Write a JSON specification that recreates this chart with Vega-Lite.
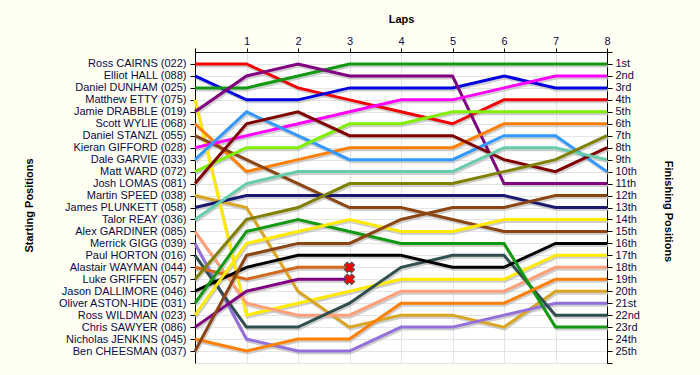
{
  "$schema": "https://vega.github.io/schema/vega-lite/v6.json",
  "width": 412,
  "height": 311,
  "autosize": {"type": "none"},
  "padding": {"left": 195, "top": 52, "right": 93, "bottom": 12},
  "background": "#FFFFF4",
  "config": {
    "view": {"fill": "#FFFFFF", "stroke": null},
    "font": "Liberation Sans",
    "axis": {
      "labelFont": "Liberation Sans", "labelFontSize": 11, "labelColor": "#0A0A46",
      "titleFont": "Liberation Sans", "titleFontSize": 11, "titleFontWeight": "bold", "titleColor": "#000000",
      "domainColor": "#000000", "domainWidth": 1, "tickColor": "#000000", "tickWidth": 1, "tickSize": 5,
      "gridColor": "#E4E4E4", "gridWidth": 1
    }
  },
  "data": {"values": [
    {"driver": "Ross CAIRNS (022)", "lap": 0, "pos": 1}, {"driver": "Ross CAIRNS (022)", "lap": 1, "pos": 1}, {"driver": "Ross CAIRNS (022)", "lap": 2, "pos": 3}, {"driver": "Ross CAIRNS (022)", "lap": 3, "pos": 4}, {"driver": "Ross CAIRNS (022)", "lap": 4, "pos": 5}, {"driver": "Ross CAIRNS (022)", "lap": 5, "pos": 6}, {"driver": "Ross CAIRNS (022)", "lap": 6, "pos": 4}, {"driver": "Ross CAIRNS (022)", "lap": 7, "pos": 4}, {"driver": "Ross CAIRNS (022)", "lap": 8, "pos": 4},
    {"driver": "Elliot HALL (088)", "lap": 0, "pos": 2}, {"driver": "Elliot HALL (088)", "lap": 1, "pos": 4}, {"driver": "Elliot HALL (088)", "lap": 2, "pos": 4}, {"driver": "Elliot HALL (088)", "lap": 3, "pos": 3}, {"driver": "Elliot HALL (088)", "lap": 4, "pos": 3}, {"driver": "Elliot HALL (088)", "lap": 5, "pos": 3}, {"driver": "Elliot HALL (088)", "lap": 6, "pos": 2}, {"driver": "Elliot HALL (088)", "lap": 7, "pos": 3}, {"driver": "Elliot HALL (088)", "lap": 8, "pos": 3},
    {"driver": "Daniel DUNHAM (025)", "lap": 0, "pos": 3}, {"driver": "Daniel DUNHAM (025)", "lap": 1, "pos": 3}, {"driver": "Daniel DUNHAM (025)", "lap": 2, "pos": 2}, {"driver": "Daniel DUNHAM (025)", "lap": 3, "pos": 1}, {"driver": "Daniel DUNHAM (025)", "lap": 4, "pos": 1}, {"driver": "Daniel DUNHAM (025)", "lap": 5, "pos": 1}, {"driver": "Daniel DUNHAM (025)", "lap": 6, "pos": 1}, {"driver": "Daniel DUNHAM (025)", "lap": 7, "pos": 1}, {"driver": "Daniel DUNHAM (025)", "lap": 8, "pos": 1},
    {"driver": "Matthew ETTY (075)", "lap": 0, "pos": 4}, {"driver": "Matthew ETTY (075)", "lap": 1, "pos": 22}, {"driver": "Matthew ETTY (075)", "lap": 2, "pos": 21}, {"driver": "Matthew ETTY (075)", "lap": 3, "pos": 20}, {"driver": "Matthew ETTY (075)", "lap": 4, "pos": 19}, {"driver": "Matthew ETTY (075)", "lap": 5, "pos": 19}, {"driver": "Matthew ETTY (075)", "lap": 6, "pos": 19}, {"driver": "Matthew ETTY (075)", "lap": 7, "pos": 17}, {"driver": "Matthew ETTY (075)", "lap": 8, "pos": 17},
    {"driver": "Jamie DRABBLE (019)", "lap": 0, "pos": 5}, {"driver": "Jamie DRABBLE (019)", "lap": 1, "pos": 2}, {"driver": "Jamie DRABBLE (019)", "lap": 2, "pos": 1}, {"driver": "Jamie DRABBLE (019)", "lap": 3, "pos": 2}, {"driver": "Jamie DRABBLE (019)", "lap": 4, "pos": 2}, {"driver": "Jamie DRABBLE (019)", "lap": 5, "pos": 2}, {"driver": "Jamie DRABBLE (019)", "lap": 6, "pos": 11}, {"driver": "Jamie DRABBLE (019)", "lap": 7, "pos": 11}, {"driver": "Jamie DRABBLE (019)", "lap": 8, "pos": 11},
    {"driver": "Scott WYLIE (068)", "lap": 0, "pos": 6}, {"driver": "Scott WYLIE (068)", "lap": 1, "pos": 10}, {"driver": "Scott WYLIE (068)", "lap": 2, "pos": 9}, {"driver": "Scott WYLIE (068)", "lap": 3, "pos": 8}, {"driver": "Scott WYLIE (068)", "lap": 4, "pos": 8}, {"driver": "Scott WYLIE (068)", "lap": 5, "pos": 8}, {"driver": "Scott WYLIE (068)", "lap": 6, "pos": 6}, {"driver": "Scott WYLIE (068)", "lap": 7, "pos": 6}, {"driver": "Scott WYLIE (068)", "lap": 8, "pos": 6},
    {"driver": "Daniel STANZL (055)", "lap": 0, "pos": 7}, {"driver": "Daniel STANZL (055)", "lap": 1, "pos": 9}, {"driver": "Daniel STANZL (055)", "lap": 2, "pos": 11}, {"driver": "Daniel STANZL (055)", "lap": 3, "pos": 13}, {"driver": "Daniel STANZL (055)", "lap": 4, "pos": 13}, {"driver": "Daniel STANZL (055)", "lap": 5, "pos": 14}, {"driver": "Daniel STANZL (055)", "lap": 6, "pos": 15}, {"driver": "Daniel STANZL (055)", "lap": 7, "pos": 15}, {"driver": "Daniel STANZL (055)", "lap": 8, "pos": 15},
    {"driver": "Kieran GIFFORD (028)", "lap": 0, "pos": 8}, {"driver": "Kieran GIFFORD (028)", "lap": 1, "pos": 7}, {"driver": "Kieran GIFFORD (028)", "lap": 2, "pos": 6}, {"driver": "Kieran GIFFORD (028)", "lap": 3, "pos": 5}, {"driver": "Kieran GIFFORD (028)", "lap": 4, "pos": 4}, {"driver": "Kieran GIFFORD (028)", "lap": 5, "pos": 4}, {"driver": "Kieran GIFFORD (028)", "lap": 6, "pos": 3}, {"driver": "Kieran GIFFORD (028)", "lap": 7, "pos": 2}, {"driver": "Kieran GIFFORD (028)", "lap": 8, "pos": 2},
    {"driver": "Dale GARVIE (033)", "lap": 0, "pos": 9}, {"driver": "Dale GARVIE (033)", "lap": 1, "pos": 5}, {"driver": "Dale GARVIE (033)", "lap": 2, "pos": 7}, {"driver": "Dale GARVIE (033)", "lap": 3, "pos": 9}, {"driver": "Dale GARVIE (033)", "lap": 4, "pos": 9}, {"driver": "Dale GARVIE (033)", "lap": 5, "pos": 9}, {"driver": "Dale GARVIE (033)", "lap": 6, "pos": 7}, {"driver": "Dale GARVIE (033)", "lap": 7, "pos": 7}, {"driver": "Dale GARVIE (033)", "lap": 8, "pos": 10},
    {"driver": "Matt WARD (072)", "lap": 0, "pos": 10}, {"driver": "Matt WARD (072)", "lap": 1, "pos": 8}, {"driver": "Matt WARD (072)", "lap": 2, "pos": 8}, {"driver": "Matt WARD (072)", "lap": 3, "pos": 6}, {"driver": "Matt WARD (072)", "lap": 4, "pos": 6}, {"driver": "Matt WARD (072)", "lap": 5, "pos": 5}, {"driver": "Matt WARD (072)", "lap": 6, "pos": 5}, {"driver": "Matt WARD (072)", "lap": 7, "pos": 5}, {"driver": "Matt WARD (072)", "lap": 8, "pos": 5},
    {"driver": "Josh LOMAS (081)", "lap": 0, "pos": 11}, {"driver": "Josh LOMAS (081)", "lap": 1, "pos": 6}, {"driver": "Josh LOMAS (081)", "lap": 2, "pos": 5}, {"driver": "Josh LOMAS (081)", "lap": 3, "pos": 7}, {"driver": "Josh LOMAS (081)", "lap": 4, "pos": 7}, {"driver": "Josh LOMAS (081)", "lap": 5, "pos": 7}, {"driver": "Josh LOMAS (081)", "lap": 6, "pos": 9}, {"driver": "Josh LOMAS (081)", "lap": 7, "pos": 10}, {"driver": "Josh LOMAS (081)", "lap": 8, "pos": 8},
    {"driver": "Martin SPEED (038)", "lap": 0, "pos": 12}, {"driver": "Martin SPEED (038)", "lap": 1, "pos": 13}, {"driver": "Martin SPEED (038)", "lap": 2, "pos": 20}, {"driver": "Martin SPEED (038)", "lap": 3, "pos": 23}, {"driver": "Martin SPEED (038)", "lap": 4, "pos": 22}, {"driver": "Martin SPEED (038)", "lap": 5, "pos": 22}, {"driver": "Martin SPEED (038)", "lap": 6, "pos": 23}, {"driver": "Martin SPEED (038)", "lap": 7, "pos": 20}, {"driver": "Martin SPEED (038)", "lap": 8, "pos": 20},
    {"driver": "James PLUNKETT (058)", "lap": 0, "pos": 13}, {"driver": "James PLUNKETT (058)", "lap": 1, "pos": 12}, {"driver": "James PLUNKETT (058)", "lap": 2, "pos": 12}, {"driver": "James PLUNKETT (058)", "lap": 3, "pos": 12}, {"driver": "James PLUNKETT (058)", "lap": 4, "pos": 12}, {"driver": "James PLUNKETT (058)", "lap": 5, "pos": 12}, {"driver": "James PLUNKETT (058)", "lap": 6, "pos": 12}, {"driver": "James PLUNKETT (058)", "lap": 7, "pos": 13}, {"driver": "James PLUNKETT (058)", "lap": 8, "pos": 13},
    {"driver": "Talor REAY (036)", "lap": 0, "pos": 14}, {"driver": "Talor REAY (036)", "lap": 1, "pos": 11}, {"driver": "Talor REAY (036)", "lap": 2, "pos": 10}, {"driver": "Talor REAY (036)", "lap": 3, "pos": 10}, {"driver": "Talor REAY (036)", "lap": 4, "pos": 10}, {"driver": "Talor REAY (036)", "lap": 5, "pos": 10}, {"driver": "Talor REAY (036)", "lap": 6, "pos": 8}, {"driver": "Talor REAY (036)", "lap": 7, "pos": 8}, {"driver": "Talor REAY (036)", "lap": 8, "pos": 9},
    {"driver": "Alex GARDINER (085)", "lap": 0, "pos": 15}, {"driver": "Alex GARDINER (085)", "lap": 1, "pos": 21}, {"driver": "Alex GARDINER (085)", "lap": 2, "pos": 22}, {"driver": "Alex GARDINER (085)", "lap": 3, "pos": 22}, {"driver": "Alex GARDINER (085)", "lap": 4, "pos": 20}, {"driver": "Alex GARDINER (085)", "lap": 5, "pos": 20}, {"driver": "Alex GARDINER (085)", "lap": 6, "pos": 20}, {"driver": "Alex GARDINER (085)", "lap": 7, "pos": 18}, {"driver": "Alex GARDINER (085)", "lap": 8, "pos": 18},
    {"driver": "Merrick GIGG (039)", "lap": 0, "pos": 16}, {"driver": "Merrick GIGG (039)", "lap": 1, "pos": 24}, {"driver": "Merrick GIGG (039)", "lap": 2, "pos": 25}, {"driver": "Merrick GIGG (039)", "lap": 3, "pos": 25}, {"driver": "Merrick GIGG (039)", "lap": 4, "pos": 23}, {"driver": "Merrick GIGG (039)", "lap": 5, "pos": 23}, {"driver": "Merrick GIGG (039)", "lap": 6, "pos": 22}, {"driver": "Merrick GIGG (039)", "lap": 7, "pos": 21}, {"driver": "Merrick GIGG (039)", "lap": 8, "pos": 21},
    {"driver": "Paul HORTON (016)", "lap": 0, "pos": 17}, {"driver": "Paul HORTON (016)", "lap": 1, "pos": 23}, {"driver": "Paul HORTON (016)", "lap": 2, "pos": 23}, {"driver": "Paul HORTON (016)", "lap": 3, "pos": 21}, {"driver": "Paul HORTON (016)", "lap": 4, "pos": 18}, {"driver": "Paul HORTON (016)", "lap": 5, "pos": 17}, {"driver": "Paul HORTON (016)", "lap": 6, "pos": 17}, {"driver": "Paul HORTON (016)", "lap": 7, "pos": 22}, {"driver": "Paul HORTON (016)", "lap": 8, "pos": 22},
    {"driver": "Alastair WAYMAN (044)", "lap": 0, "pos": 18}, {"driver": "Alastair WAYMAN (044)", "lap": 1, "pos": 19}, {"driver": "Alastair WAYMAN (044)", "lap": 2, "pos": 18}, {"driver": "Alastair WAYMAN (044)", "lap": 3, "pos": 18, "dnf": true},
    {"driver": "Luke GRIFFEN (057)", "lap": 0, "pos": 19}, {"driver": "Luke GRIFFEN (057)", "lap": 1, "pos": 14}, {"driver": "Luke GRIFFEN (057)", "lap": 2, "pos": 13}, {"driver": "Luke GRIFFEN (057)", "lap": 3, "pos": 11}, {"driver": "Luke GRIFFEN (057)", "lap": 4, "pos": 11}, {"driver": "Luke GRIFFEN (057)", "lap": 5, "pos": 11}, {"driver": "Luke GRIFFEN (057)", "lap": 6, "pos": 10}, {"driver": "Luke GRIFFEN (057)", "lap": 7, "pos": 9}, {"driver": "Luke GRIFFEN (057)", "lap": 8, "pos": 7},
    {"driver": "Jason DALLIMORE (046)", "lap": 0, "pos": 20}, {"driver": "Jason DALLIMORE (046)", "lap": 1, "pos": 18}, {"driver": "Jason DALLIMORE (046)", "lap": 2, "pos": 17}, {"driver": "Jason DALLIMORE (046)", "lap": 3, "pos": 17}, {"driver": "Jason DALLIMORE (046)", "lap": 4, "pos": 17}, {"driver": "Jason DALLIMORE (046)", "lap": 5, "pos": 18}, {"driver": "Jason DALLIMORE (046)", "lap": 6, "pos": 18}, {"driver": "Jason DALLIMORE (046)", "lap": 7, "pos": 16}, {"driver": "Jason DALLIMORE (046)", "lap": 8, "pos": 16},
    {"driver": "Oliver ASTON-HIDE (031)", "lap": 0, "pos": 21}, {"driver": "Oliver ASTON-HIDE (031)", "lap": 1, "pos": 15}, {"driver": "Oliver ASTON-HIDE (031)", "lap": 2, "pos": 14}, {"driver": "Oliver ASTON-HIDE (031)", "lap": 3, "pos": 15}, {"driver": "Oliver ASTON-HIDE (031)", "lap": 4, "pos": 16}, {"driver": "Oliver ASTON-HIDE (031)", "lap": 5, "pos": 16}, {"driver": "Oliver ASTON-HIDE (031)", "lap": 6, "pos": 16}, {"driver": "Oliver ASTON-HIDE (031)", "lap": 7, "pos": 23}, {"driver": "Oliver ASTON-HIDE (031)", "lap": 8, "pos": 23},
    {"driver": "Ross WILDMAN (023)", "lap": 0, "pos": 22}, {"driver": "Ross WILDMAN (023)", "lap": 1, "pos": 16}, {"driver": "Ross WILDMAN (023)", "lap": 2, "pos": 15}, {"driver": "Ross WILDMAN (023)", "lap": 3, "pos": 14}, {"driver": "Ross WILDMAN (023)", "lap": 4, "pos": 15}, {"driver": "Ross WILDMAN (023)", "lap": 5, "pos": 15}, {"driver": "Ross WILDMAN (023)", "lap": 6, "pos": 14}, {"driver": "Ross WILDMAN (023)", "lap": 7, "pos": 14}, {"driver": "Ross WILDMAN (023)", "lap": 8, "pos": 14},
    {"driver": "Chris SAWYER (086)", "lap": 0, "pos": 23}, {"driver": "Chris SAWYER (086)", "lap": 1, "pos": 20}, {"driver": "Chris SAWYER (086)", "lap": 2, "pos": 19}, {"driver": "Chris SAWYER (086)", "lap": 3, "pos": 19, "dnf": true},
    {"driver": "Nicholas JENKINS (045)", "lap": 0, "pos": 24}, {"driver": "Nicholas JENKINS (045)", "lap": 1, "pos": 25}, {"driver": "Nicholas JENKINS (045)", "lap": 2, "pos": 24}, {"driver": "Nicholas JENKINS (045)", "lap": 3, "pos": 24}, {"driver": "Nicholas JENKINS (045)", "lap": 4, "pos": 21}, {"driver": "Nicholas JENKINS (045)", "lap": 5, "pos": 21}, {"driver": "Nicholas JENKINS (045)", "lap": 6, "pos": 21}, {"driver": "Nicholas JENKINS (045)", "lap": 7, "pos": 19}, {"driver": "Nicholas JENKINS (045)", "lap": 8, "pos": 19},
    {"driver": "Ben CHEESMAN (037)", "lap": 0, "pos": 25}, {"driver": "Ben CHEESMAN (037)", "lap": 1, "pos": 17}, {"driver": "Ben CHEESMAN (037)", "lap": 2, "pos": 16}, {"driver": "Ben CHEESMAN (037)", "lap": 3, "pos": 16}, {"driver": "Ben CHEESMAN (037)", "lap": 4, "pos": 14}, {"driver": "Ben CHEESMAN (037)", "lap": 5, "pos": 13}, {"driver": "Ben CHEESMAN (037)", "lap": 6, "pos": 13}, {"driver": "Ben CHEESMAN (037)", "lap": 7, "pos": 12}, {"driver": "Ben CHEESMAN (037)", "lap": 8, "pos": 12}
  ]},
  "layer": [
    {
      "encoding": {
        "x": {
          "field": "lap", "type": "quantitative",
          "scale": {"domain": [0, 8], "nice": false, "zero": false},
          "axis": {
            "orient": "top", "values": [0, 1, 2, 3, 4, 5, 6, 7, 8],
            "labelExpr": "datum.value == 0 ? '' : datum.label",
            "title": "Laps", "grid": true, "tickSize": 4, "labelPadding": 2,
            "labelFlush": false, "titleY": -30, "titleBaseline": "alphabetic"
          }
        },
        "y": {
          "field": "pos", "type": "quantitative",
          "scale": {"domain": [0, 26], "reverse": true, "nice": false, "zero": false},
          "axis": {
            "orient": "right",
            "values": [0, 1, 2, 3, 4, 5, 6, 7, 8, 9, 10, 11, 12, 13, 14, 15, 16, 17, 18, 19, 20, 21, 22, 23, 24, 25, 26],
            "labelExpr": "datum.value < 1 || datum.value > 25 ? '' : datum.value + ((datum.value % 10 == 1 && datum.value != 11) ? 'st' : (datum.value % 10 == 2 && datum.value != 12) ? 'nd' : (datum.value % 10 == 3 && datum.value != 13) ? 'rd' : 'th')",
            "title": "Finishing Positions", "grid": true, "labelPadding": 3, "labelFlush": false,
            "titleAngle": 90, "titleX": 55, "titleY": 159, "titleBaseline": "bottom", "titleAlign": "center"
          }
        }
      },
      "layer": [
        {
          "mark": {"type": "line", "strokeWidth": 3, "color": "#BDBDBD", "opacity": 0.75, "xOffset": 1, "yOffset": 2},
          "encoding": {"detail": {"field": "driver", "type": "nominal"}}
        },
        {
          "mark": {"type": "line", "strokeWidth": 3},
          "encoding": {
            "color": {
              "field": "driver", "type": "nominal", "legend": null,
              "scale": {
                "domain": ["Ross CAIRNS (022)", "Elliot HALL (088)", "Daniel DUNHAM (025)", "Matthew ETTY (075)", "Jamie DRABBLE (019)", "Scott WYLIE (068)", "Daniel STANZL (055)", "Kieran GIFFORD (028)", "Dale GARVIE (033)", "Matt WARD (072)", "Josh LOMAS (081)", "Martin SPEED (038)", "James PLUNKETT (058)", "Talor REAY (036)", "Alex GARDINER (085)", "Merrick GIGG (039)", "Paul HORTON (016)", "Alastair WAYMAN (044)", "Luke GRIFFEN (057)", "Jason DALLIMORE (046)", "Oliver ASTON-HIDE (031)", "Ross WILDMAN (023)", "Chris SAWYER (086)", "Nicholas JENKINS (045)", "Ben CHEESMAN (037)"],
                "range": ["#F00000", "#0000E0", "#129912", "#FFEA00", "#800080", "#FF8000", "#8B4513", "#FF00FF", "#3399FF", "#80F000", "#800000", "#DAA520", "#191970", "#66CDAA", "#FFA07A", "#9370DB", "#2F4F4F", "#D2691E", "#808000", "#000000", "#129912", "#FFEA00", "#800080", "#FF8000", "#8B4513"]
              }
            }
          }
        },
        {
          "transform": [{"filter": "datum.dnf == true"}],
          "mark": {"type": "point", "shape": "cross", "angle": 45, "size": 110, "filled": true, "fill": "#FF0000", "stroke": "#505050", "strokeWidth": 1, "opacity": 1}
        }
      ]
    },
    {
      "transform": [{"filter": "datum.lap == 0"}],
      "mark": {"type": "point", "opacity": 0},
      "encoding": {
        "y": {
          "field": "driver", "type": "nominal",
          "sort": {"field": "pos", "op": "min", "order": "ascending"},
          "scale": {"type": "point", "padding": 1},
          "axis": {
            "orient": "left", "title": "Starting Positions", "grid": false, "labelPadding": 4,
            "titleAngle": -90, "titleX": -161, "titleY": 153, "titleBaseline": "bottom", "titleAlign": "center"
          }
        }
      }
    }
  ],
  "resolve": {"scale": {"y": "independent"}, "axis": {"y": "independent"}}
}
